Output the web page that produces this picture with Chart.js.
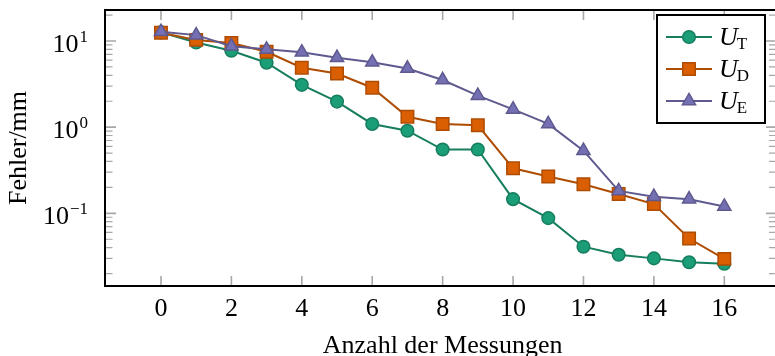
<!DOCTYPE html>
<html>
<head>
<meta charset="utf-8">
<script src="https://cdn.jsdelivr.net/npm/chart.js@4/dist/chart.umd.min.js"></script>
<style>
    html, body { margin: 0; padding: 0; background: #ffffff; }
    #wrap { width: 775px; height: 356px; position: relative; }
</style>
</head>
<body>
<div id="wrap"><canvas id="chart" width="775" height="356"></canvas></div>
<script>
// Data
const measurements = [0, 1, 2, 3, 4, 5, 6, 7, 8, 9, 10, 11, 12, 13, 14, 15, 16];
const errT = [12.6, 9.6, 7.7, 5.6, 3.1, 1.98, 1.09, 0.91, 0.55, 0.55, 0.146, 0.088, 0.041, 0.033, 0.030, 0.027, 0.026];
const errD = [12.5, 10.3, 9.5, 7.5, 4.9, 4.2, 2.87, 1.32, 1.09, 1.05, 0.333, 0.267, 0.218, 0.168, 0.128, 0.051, 0.0296];
const errE = [12.8, 11.7, 8.7, 8.0, 7.4, 6.4, 5.66, 4.8, 3.53, 2.32, 1.61, 1.09, 0.533, 0.182, 0.156, 0.146, 0.12];
const xTicks = [0, 2, 4, 6, 8, 10, 12, 14, 16];
const yTicks = [0.1, 1, 10];
const yTickExp = ['\u22121', '0', '1'];
const yMinor = [0.02, 0.03, 0.04, 0.05, 0.06, 0.07, 0.08, 0.09,
    0.2, 0.3, 0.4, 0.5, 0.6, 0.7, 0.8, 0.9,
    2, 3, 4, 5, 6, 7, 8, 9, 20];
const seriesNames = ['T', 'D', 'E'];

const colors = {
    fill: ['#1b9e77', '#d95f02', '#7570b3'],
    line: ['#167e5f', '#ae4c02', '#5e5a8f']
};
const pointStyles = ['circle', 'rect', 'triangle'];
const pointRadii = [6.3, 8.8, 7.6];

const SERIF = "'Liberation Serif', 'DejaVu Serif', serif";

function toPoints(values) {
    return measurements.map((m, i) => ({ x: m, y: values[i] }));
}

function makeDataset(values, idx) {
    return {
        label: 'U' + seriesNames[idx],
        data: toPoints(values),
        borderColor: colors.line[idx],
        backgroundColor: colors.fill[idx],
        pointBackgroundColor: colors.fill[idx],
        pointBorderColor: colors.line[idx],
        pointBorderWidth: 1.5,
        pointStyle: pointStyles[idx],
        pointRadius: pointRadii[idx],
        borderWidth: 2,
        tension: 0,
        order: 2 - idx
    };
}

// ticks (drawn under the lines), frame, labels and legend on top
const tickPlugin = {
    id: 'tickPlugin',
    beforeDatasetsDraw(chart) {
        const ctx = chart.ctx;
        const a = chart.chartArea;
        const xs = chart.scales.x, ys = chart.scales.y;
        ctx.save();
        ctx.strokeStyle = '#a8a8a8';
        ctx.lineWidth = 1.6;
        ctx.beginPath();
        xTicks.forEach(v => {
            const px = xs.getPixelForValue(v);
            ctx.moveTo(px, a.bottom); ctx.lineTo(px, a.bottom - 10);
            ctx.moveTo(px, a.top); ctx.lineTo(px, a.top + 10);
        });
        yTicks.forEach(v => {
            const py = ys.getPixelForValue(v);
            ctx.moveTo(a.left, py); ctx.lineTo(a.left + 11, py);
            ctx.moveTo(a.right, py); ctx.lineTo(a.right - 9, py);
        });
        ctx.stroke();
        ctx.lineWidth = 1.2;
        ctx.beginPath();
        yMinor.forEach(v => {
            const py = ys.getPixelForValue(v);
            ctx.moveTo(a.left, py); ctx.lineTo(a.left + 7.5, py);
            ctx.moveTo(a.right, py); ctx.lineTo(a.right - 6, py);
        });
        ctx.stroke();
        ctx.restore();
    },
    afterDraw(chart) {
        const ctx = chart.ctx;
        const a = chart.chartArea;
        const xs = chart.scales.x, ys = chart.scales.y;
        ctx.save();
        // frame (right edge falls just outside the canvas)
        ctx.strokeStyle = '#000';
        ctx.lineWidth = 2;
        ctx.strokeRect(a.left, a.top, a.right - a.left + 6, a.bottom - a.top);

        ctx.fillStyle = '#000';
        // x tick labels
        ctx.font = '26px ' + SERIF;
        ctx.textAlign = 'center';
        ctx.textBaseline = 'alphabetic';
        xTicks.forEach(v => {
            ctx.fillText(String(v), xs.getPixelForValue(v), a.bottom + 30);
        });
        // y tick labels 10^k
        yTicks.forEach((v, i) => {
            const py = ys.getPixelForValue(v);
            ctx.font = '17px ' + SERIF;
            const expW = ctx.measureText(yTickExp[i]).width;
            const right = 88;
            ctx.textAlign = 'left';
            ctx.fillText(yTickExp[i], right - expW, py + 1);
            ctx.font = '26px ' + SERIF;
            ctx.textAlign = 'right';
            ctx.fillText('10', right - expW - 1, py + 11);
        });
        // axis titles
        ctx.font = '26px ' + SERIF;
        ctx.textAlign = 'center';
        ctx.fillText('Anzahl der Messungen', (xs.getPixelForValue(0) + xs.getPixelForValue(16)) / 2, a.bottom + 67);
        ctx.save();
        ctx.translate(26, (a.top + a.bottom) / 2);
        ctx.rotate(-Math.PI / 2);
        ctx.fillText('Fehler/mm', 0, 0);
        ctx.restore();

        // legend
        const lx = 657, ly = 15, lw = 108, lh = 108;
        ctx.fillStyle = '#fff';
        ctx.fillRect(lx, ly, lw, lh);
        ctx.strokeStyle = '#000';
        ctx.lineWidth = 2;
        ctx.strokeRect(lx, ly, lw, lh);
        const rows = [37, 69, 101];
        chart.data.datasets.forEach((ds, i) => {
            const y = rows[i];
            ctx.strokeStyle = ds.borderColor;
            ctx.lineWidth = 2;
            ctx.beginPath();
            ctx.moveTo(666, y); ctx.lineTo(712, y);
            ctx.stroke();
            ctx.fillStyle = ds.pointBackgroundColor;
            ctx.strokeStyle = ds.pointBorderColor;
            ctx.lineWidth = ds.pointBorderWidth;
            Chart.helpers.drawPoint(ctx, { pointStyle: ds.pointStyle, radius: ds.pointRadius, borderWidth: ds.pointBorderWidth }, 689, y);
            ctx.fillStyle = '#000';
            ctx.textAlign = 'left';
            ctx.font = 'italic 26px ' + SERIF;
            ctx.fillText('U', 719, y + 8);
            const uw = ctx.measureText('U').width;
            ctx.font = '17px ' + SERIF;
            ctx.fillText(seriesNames[i], 719 + uw - 1, y + 12);
        });
        ctx.restore();
    }
};

new Chart(document.getElementById('chart'), {
    type: 'line',
    data: {
        datasets: [makeDataset(errT, 0), makeDataset(errD, 1), makeDataset(errE, 2)]
    },
    options: {
        responsive: false,
        animation: false,
        layout: { autoPadding: false, padding: { top: 10, right: 0, left: 0, bottom: 0 } },
        plugins: {
            legend: { display: false },
            tooltip: { enabled: false }
        },
        scales: {
            x: {
                type: 'linear',
                min: -1.59,
                max: 17.44,
                grid: { display: false },
                border: { display: false },
                ticks: { display: false },
                afterBuildTicks(scale) { scale.ticks = xTicks.map(v => ({ value: v })); },
                afterFit(scale) { scale.height = 70; }
            },
            y: {
                type: 'logarithmic',
                min: 0.01434,
                max: 22.9,
                grid: { display: false },
                border: { display: false },
                ticks: { display: false },
                afterBuildTicks(scale) { scale.ticks = yTicks.map(v => ({ value: v })); },
                afterFit(scale) { scale.width = 105; }
            }
        }
    },
    plugins: [tickPlugin]
});
</script>
</body>
</html>
